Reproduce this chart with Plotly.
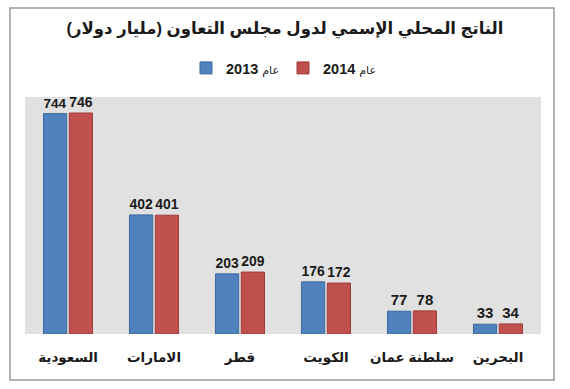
import plotly.graph_objects as go

categories = ["السعودية", "الامارات", "قطر", "الكويت", "سلطنة عمان", "البحرين"]
values_2013 = [744, 402, 203, 176, 77, 33]
values_2014 = [746, 401, 209, 172, 78, 34]
series_names = ["عام 2013", "عام 2014"]

W, H = 570, 389
L, R, T, B = 25, 29, 97, 55
pw, ph = W - L - R, H - T - B

font_fam = "Arial, Liberation Sans, DejaVu Sans, sans-serif"
RLE, PDF = "\u202b", "\u202c"


def legend_name(s):
    word, year = s.split(" ")
    return f"<span style='font-size:11px'>{RLE}{word}</span> <b>{year}{PDF}</b>"


fig = go.Figure()
fig.add_trace(go.Bar(
    x=categories, y=values_2013, name=legend_name(series_names[0]),
    marker=dict(color="#4f81bd", line=dict(color="#3d6a9e", width=1)),
    text=values_2013, texttemplate="<b>%{text}</b>", textposition="outside",
    textfont=dict(family=font_fam, size=15, color="#1a1a1a"),
    cliponaxis=False,
))
fig.add_trace(go.Bar(
    x=categories, y=values_2014, name=legend_name(series_names[1]),
    marker=dict(color="#c0504d", line=dict(color="#9e3c3a", width=1)),
    text=values_2014, texttemplate="<b>%{text}</b>", textposition="outside",
    textfont=dict(family=font_fam, size=15, color="#1a1a1a"),
    cliponaxis=False,
))

fig.update_layout(
    width=W, height=H,
    margin=dict(l=L, r=R, t=T, b=B, autoexpand=False),
    paper_bgcolor="white",
    plot_bgcolor="#e1e1e1",
    barmode="group",
    bargap=0.4,
    bargroupgap=0.1,
    font=dict(family=font_fam, color="#1a1a1a"),
    title=dict(
        text=f"<b>{RLE}الناتج المحلي الإسمي لدول مجلس التعاون (مليار دولار){PDF}</b>",
        x=0.5, xanchor="center", y=1 - 28 / H, yanchor="middle",
        font=dict(size=16.5, family=font_fam, color="#1a1a1a"),
    ),
    legend=dict(
        orientation="h", x=0.5, xanchor="center",
        y=1 + (T - 68) / ph, yanchor="middle",
        font=dict(size=14.5, family=font_fam, color="#1a1a1a"),
        traceorder="normal", itemwidth=30,
        entrywidth=52, entrywidthmode="pixels",
        bgcolor="rgba(0,0,0,0)",
    ),
    xaxis=dict(
        showgrid=False, showline=False, ticks="", automargin=False,
        tickfont=dict(size=13.5, family=font_fam, color="#1a1a1a"),
        ticklabelstandoff=13,
    ),
    yaxis=dict(range=[0, 800], visible=False, showgrid=False, automargin=False),
    shapes=[dict(
        type="rect", xref="paper", yref="paper",
        x0=(10 - L) / pw, x1=(554 - L) / pw,
        y0=(H - B - 380) / ph, y1=(H - B - 8) / ph,
        line=dict(color="#9a9a9a", width=1.5), fillcolor="rgba(0,0,0,0)",
        layer="below",
    )],
)
fig.update_xaxes(tickprefix="<b>", ticksuffix="</b>")

fig.write_html(
    "out.html",
    config={"displayModeBar": False},
    post_script="document.body.style.margin='0';",
)
